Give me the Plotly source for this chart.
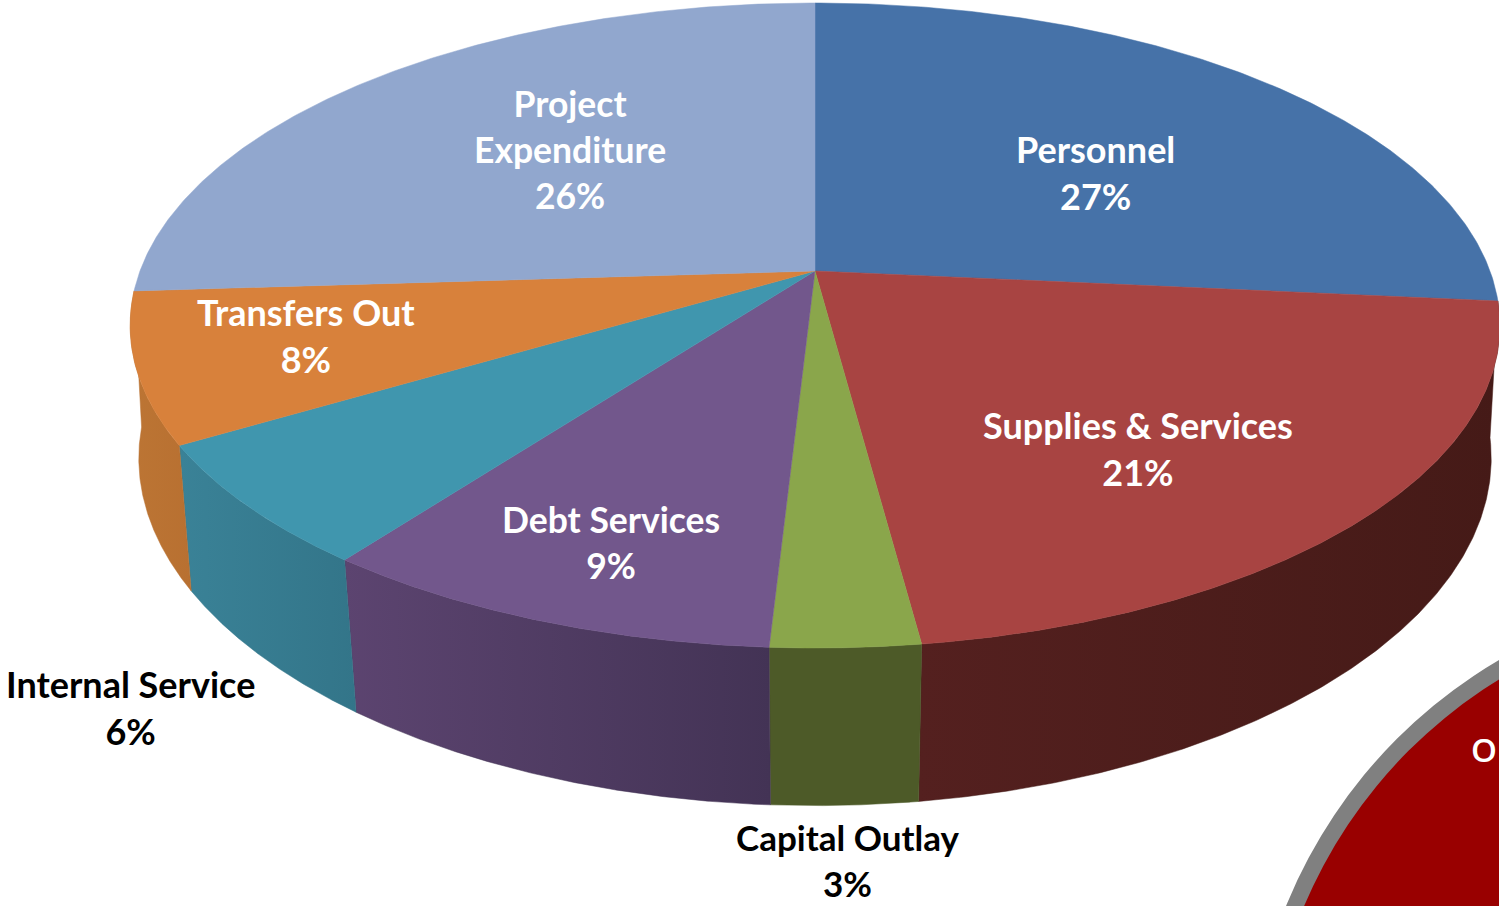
import numpy as np
import plotly.graph_objects as go

# ---- data (percent of total) ----
categories = ["Personnel", "Supplies & Services", "Capital Outlay", "Debt Services",
              "Internal Service", "Transfers Out", "Project Expenditure"]
values = [26.5, 21.4, 3.0, 9.4, 6.2, 7.5, 26.0]
percent_labels = ["27%", "21%", "3%", "9%", "6%", "8%", "26%"]
label_text = ["Personnel", "Supplies &amp; Services", "Capital Outlay", "Debt Services",
              "Internal Service", "Transfers Out", "Project<br>Expenditure"]

# ---- styles ----
top_colors = ["#4672A8", "#A84442", "#8AA64B", "#72578C", "#4096AE", "#D8813B", "#91A7CE"]
wall_left = ["#2d4a6e", "#54201F", "#4D5A28", "#5C4470", "#3A8297", "#BC7534", "#5f6e88"]
wall_right = ["#2d4a6e", "#451A17", "#4D5A28", "#433355", "#337589", "#B87031", "#5f6e88"]
label_color = ["white", "white", "black", "white", "black", "white", "white"]
label_x = [1095, 1138, 847, 611, 130, 306, 570]
label_y = [172, 448, 860, 542, 707, 335, 149]
label_size = [36, 36, 35, 35.5, 36, 36, 35.5]

W, H = 1499, 906
CX, CY = 815, 271      # where the slices meet
A, B, C = 675, 313.3, 0.169  # perspective of the disc
WX0, WXK, WY, WO = 0.99, 0.00005, 1.06, 135  # lower rim relative to the upper rim


def rim(t):
    u, v = np.sin(t), np.cos(t)
    d = 1 + C * v
    return A * u / d, -B * v / d


def top_xy(t):
    x, y = rim(t)
    return CX + x, CY + y


def bottom_xy(t):
    x, y = rim(t)
    return CX + (WX0 - WXK * y) * x, CY + WO + WY * y


edges = np.concatenate([[0], np.cumsum(values)]) / np.sum(values) * 2 * np.pi
fig = go.Figure()

# side walls of the front slices, then every top face over them
for i in range(len(values)):
    if np.cos((edges[i] + edges[i + 1]) / 2) > 0:
        continue  # back slices show no wall
    t = np.linspace(edges[i], edges[i + 1], 200)
    tx, ty = top_xy(t)
    bx, by = bottom_xy(t)
    fig.add_trace(go.Scatter(
        x=np.concatenate([tx, bx[::-1], tx[:1]]),
        y=np.concatenate([ty, by[::-1], ty[:1]]),
        mode="lines", fill="toself", name=categories[i] + " side",
        line=dict(width=0.5, color=wall_right[i]),
        fillgradient=dict(type="horizontal",
                          colorscale=[[0, wall_left[i]], [1, wall_right[i]]]),
        hoverinfo="skip", showlegend=False))

for i in range(len(values)):
    t = np.linspace(edges[i], edges[i + 1], 200)
    tx, ty = top_xy(t)
    fig.add_trace(go.Scatter(
        x=np.concatenate([[CX], tx, [CX]]),
        y=np.concatenate([[CY], ty, [CY]]),
        mode="lines", fill="toself", name=categories[i],
        line=dict(width=0.5, color=top_colors[i]),
        fillcolor=top_colors[i],
        hoverinfo="skip", showlegend=False))

annotations = []
for i in range(len(values)):
    annotations.append(dict(
        x=label_x[i], y=label_y[i], xref="x", yref="y", showarrow=False,
        text=f"{label_text[i]}<br>{percent_labels[i]}", align="center",
        font=dict(family="Lato", size=label_size[i], color=label_color[i], weight=700)))
annotations.append(dict(x=1484, y=749, xref="x", yref="y", showarrow=False, text="O",
                        font=dict(family="Open Sans", size=33, color="white", weight=600)))

# the corner badge
shapes = []
for r, col in [(505.7, "#808080"), (489, "#990000")]:
    shapes.append(dict(type="circle", xref="x", yref="y", x0=1754.5 - r, x1=1754.5 + r,
                       y0=1096.4 - r, y1=1096.4 + r, fillcolor=col, line=dict(width=0),
                       layer="below"))

fig.update_layout(
    width=W, height=H, margin=dict(l=0, r=0, t=0, b=0), autosize=False,
    paper_bgcolor="white", plot_bgcolor="white",
    xaxis=dict(range=[0, W], visible=False, fixedrange=True),
    yaxis=dict(range=[H, 0], visible=False, fixedrange=True),
    annotations=annotations, shapes=shapes, showlegend=False)

fig.write_html("out.html", config={"displayModeBar": False},
               post_script="document.body.style.margin='0';document.body.style.overflow='hidden';")
